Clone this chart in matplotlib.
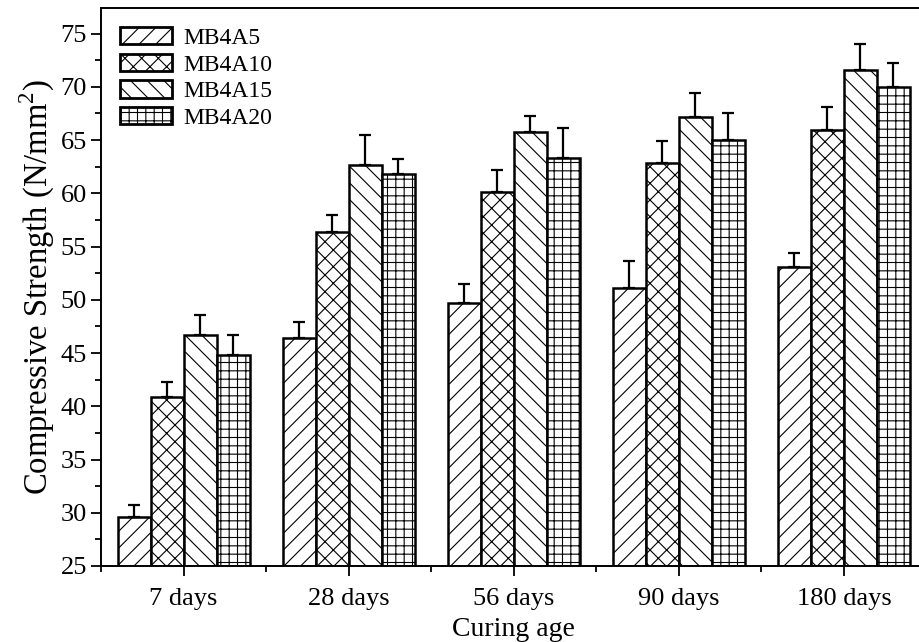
import numpy as np
import matplotlib
matplotlib.use("Agg")
import matplotlib.pyplot as plt
from matplotlib.ticker import MultipleLocator, FixedLocator

plt.rcParams["font.family"] = ["Liberation Serif", "DejaVu Serif"]
plt.rcParams["hatch.linewidth"] = 0.8
plt.rcParams["mathtext.fontset"] = "custom"
plt.rcParams["mathtext.rm"] = "Liberation Serif"

# resistencia a compressao por idade de cura
idades = ["7 days", "28 days", "56 days", "90 days", "180 days"]
series = ["MB4A5", "MB4A10", "MB4A15", "MB4A20"]

mb4a5 = [29.6, 46.4, 49.7, 51.1, 53.1]
mb4a10 = [40.9, 56.4, 60.1, 62.8, 65.9]
mb4a15 = [46.7, 62.7, 65.8, 67.2, 71.6]
mb4a20 = [44.8, 61.8, 63.3, 65.0, 70.0]

# desvio (so a parte de cima e desenhada)
err_mb4a5 = [1.1, 1.5, 1.75, 2.5, 1.3]
err_mb4a10 = [1.4, 1.6, 2.1, 2.1, 2.2]
err_mb4a15 = [1.9, 2.8, 1.5, 2.2, 2.4]
err_mb4a20 = [1.9, 1.45, 2.85, 2.5, 2.25]

valores = [mb4a5, mb4a10, mb4a15, mb4a20]
erros = [err_mb4a5, err_mb4a10, err_mb4a15, err_mb4a20]
hachuras = ["//", "xx", "\\\\", "++"]

fig = plt.figure(figsize=(9.2, 6.42), dpi=100)
ax = fig.add_axes([101 / 920, 76 / 642, 825.5 / 920, 558 / 642])

x = np.arange(len(idades))
largura = 0.2

for i, (nome, vals, errs, h) in enumerate(zip(series, valores, erros, hachuras)):
    pos = x + (i - 1.5) * largura
    ax.bar(pos, np.array(vals) - 25, largura, bottom=25, color="white",
           edgecolor="black", linewidth=1.8, hatch=h, label=nome, zorder=2)
    ax.errorbar(pos, vals, yerr=[np.zeros(len(errs)), errs], fmt="none",
                ecolor="black", elinewidth=1.6, capsize=4.5, capthick=1.6, zorder=3)

ax.set_xlim(-0.5, 4.5)
ax.set_ylim(25, 77.4)

ax.set_xticks(x)
ax.set_xticklabels(idades)
ax.xaxis.set_minor_locator(FixedLocator(np.arange(-0.5, 4.6, 1.0)))
ax.yaxis.set_major_locator(MultipleLocator(5))
ax.yaxis.set_minor_locator(MultipleLocator(2.5))

ax.tick_params(which="major", direction="out", length=7, width=1.3, labelsize=19)
ax.tick_params(axis="x", which="major", pad=9)
ax.tick_params(axis="y", which="major", pad=3)
ax.tick_params(which="minor", direction="out", length=4.5, width=1.3)

for s in ["left", "bottom", "top"]:
    ax.spines[s].set_linewidth(1.4)
ax.spines["right"].set_visible(False)

ax.set_xlabel("Curing age", fontsize=20, labelpad=5)
ax.set_ylabel("Compressive Strength (N/mm$^2$)", fontsize=23.5, labelpad=3)

leg = ax.legend(loc="upper left", bbox_to_anchor=(0.0005, 0.9995), frameon=False,
                fontsize=17, handlelength=2.2, handleheight=0.75,
                labelspacing=0.2, handletextpad=0.45, borderpad=0.3)
for p in leg.get_patches():
    p.set_linewidth(2.0)

fig.savefig("out.png", dpi=100)
